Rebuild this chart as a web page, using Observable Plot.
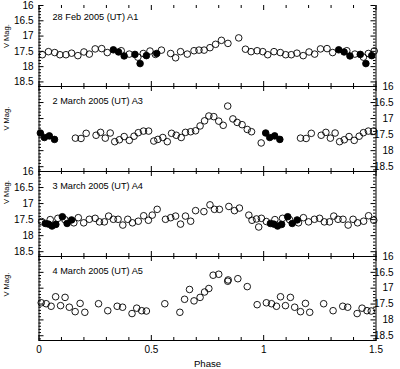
<!DOCTYPE html>
<html><head><meta charset="utf-8">
<script src="https://cdn.jsdelivr.net/npm/d3@7"></script>
<script src="https://cdn.jsdelivr.net/npm/@observablehq/plot@0.6"></script>
<style>
html,body{margin:0;padding:0;background:#fff;}
#chart{position:relative;width:400px;height:369px;overflow:hidden;background:#fff;}
#chart svg{position:absolute;left:0;}
</style></head><body><div id="chart"></div>
<script>
// ---- data (phase, V magnitude) ----
const panelTitles = ["28 Feb 2005 (UT) A1", "2 March 2005 (UT) A3", "3 March 2005 (UT) A4", "4 March 2005 (UT) A5"];
const yLabel = "V Mag.";
const xLabel = "Phase";
const phaseDomain = [0, 1.5];
const magDomain = [16, 18.65];
const phaseMajor = [0, 0.5, 1, 1.5];
const phaseTickLabels = ["0", "0.5", "1", "1.5"];
const phaseMinor = [0.1, 0.2, 0.3, 0.4, 0.6, 0.7, 0.8, 0.9, 1.1, 1.2, 1.3, 1.4];
const magMajor = [16, 16.5, 17, 17.5, 18, 18.5];
const magTickLabels = ["16", "16.5", "17", "17.5", "18", "18.5"];
const magMinor = [16.1, 16.2, 16.3, 16.4, 16.6, 16.7, 16.8, 16.9, 17.1, 17.2, 17.3, 17.4, 17.6, 17.7, 17.8, 17.9, 18.1, 18.2, 18.3, 18.4, 18.6];

const a1Open = [[0.015,17.61],[0.042,17.51],[0.07,17.54],[0.093,17.61],[0.12,17.61],[0.145,17.56],[0.173,17.64],[0.2,17.52],[0.224,17.59],[0.25,17.42],[0.279,17.41],[0.304,17.54],[0.366,17.48],[0.402,17.59],[0.44,17.69],[0.464,17.57],[0.494,17.49],[0.518,17.6],[0.545,17.46],[0.586,17.57],[0.608,17.71],[0.63,17.51],[0.66,17.59],[0.69,17.48],[0.712,17.46],[0.735,17.46],[0.761,17.38],[0.786,17.27],[0.812,17.14],[0.841,17.24],[0.889,17.06],[0.919,17.43],[0.944,17.51],[0.971,17.48],[0.996,17.51],
  [1.018,17.61],[1.046,17.51],[1.074,17.54],[1.098,17.61],[1.123,17.61],[1.148,17.56],[1.176,17.64],[1.202,17.52],[1.227,17.59],[1.253,17.42],[1.282,17.41],[1.307,17.54],[1.37,17.48],[1.406,17.59],[1.444,17.69],[1.466,17.57],[1.492,17.49]];
const a1Filled = [[0.331,17.45],[0.354,17.52],[0.379,17.65],[0.427,17.6],[0.45,17.9],[0.478,17.64],[0.524,17.57],
  [1.334,17.45],[1.358,17.52],[1.384,17.65],[1.43,17.6],[1.455,17.9],[1.481,17.64]];

const a3Open = [[0.162,17.61],[0.187,17.62],[0.21,17.46],[0.254,17.52],[0.274,17.43],[0.295,17.61],[0.317,17.45],[0.337,17.72],[0.358,17.66],[0.379,17.56],[0.402,17.68],[0.423,17.55],[0.442,17.44],[0.465,17.39],[0.488,17.39],[0.511,17.7],[0.529,17.65],[0.551,17.59],[0.571,17.72],[0.59,17.46],[0.611,17.52],[0.633,17.59],[0.652,17.43],[0.675,17.41],[0.697,17.38],[0.717,17.23],[0.737,17.07],[0.756,16.92],[0.778,16.94],[0.8,17.08],[0.82,17.21],[0.84,16.61],[0.863,17.01],[0.882,17.12],[0.904,17.19],[0.927,17.34],[0.946,17.41],[0.989,17.76],
  [1.164,17.61],[1.189,17.62],[1.212,17.46],[1.256,17.52],[1.277,17.43],[1.297,17.61],[1.318,17.45],[1.338,17.72],[1.359,17.66],[1.38,17.56],[1.403,17.68],[1.425,17.55],[1.444,17.44],[1.466,17.39],[1.489,17.39]];
const a3Filled = [[0.006,17.45],[0.024,17.59],[0.046,17.54],[0.069,17.65],
  [1.009,17.45],[1.027,17.59],[1.049,17.54],[1.072,17.65]];

const a4Open = [[0.012,17.56],[0.05,17.5],[0.084,17.46],[0.115,17.5],[0.155,17.6],[0.175,17.44],[0.199,17.6],[0.224,17.49],[0.25,17.46],[0.269,17.57],[0.291,17.57],[0.31,17.39],[0.331,17.49],[0.352,17.49],[0.373,17.67],[0.395,17.49],[0.416,17.6],[0.442,17.55],[0.466,17.38],[0.487,17.52],[0.504,17.36],[0.526,17.18],[0.563,17.49],[0.586,17.44],[0.608,17.39],[0.63,17.64],[0.652,17.39],[0.675,17.55],[0.697,17.22],[0.734,17.25],[0.761,17.04],[0.781,17.18],[0.803,17.18],[0.845,17.09],[0.87,17.22],[0.892,17.14],[0.934,17.36],[0.948,17.52],[0.968,17.48],[0.978,17.73],[0.99,17.46],
  [1.012,17.56],[1.05,17.5],[1.084,17.46],[1.115,17.5],[1.155,17.6],[1.177,17.44],[1.2,17.57],[1.226,17.49],[1.249,17.46],[1.27,17.57],[1.293,17.57],[1.312,17.39],[1.331,17.49],[1.353,17.49],[1.376,17.67],[1.398,17.49],[1.418,17.6],[1.445,17.55],[1.467,17.38],[1.49,17.52]];
const a4Filled = [[0.028,17.62],[0.042,17.64],[0.058,17.7],[0.075,17.65],[0.104,17.41],[0.125,17.62],[0.145,17.51],
  [1.03,17.62],[1.045,17.64],[1.062,17.7],[1.08,17.65],[1.107,17.41],[1.127,17.62],[1.149,17.51]];

const a5Open = [[0.01,17.46],[0.032,17.49],[0.054,17.57],[0.074,17.27],[0.096,17.55],[0.116,17.29],[0.135,17.6],[0.161,17.74],[0.183,17.48],[0.204,17.76],[0.265,17.49],[0.306,17.71],[0.348,17.57],[0.372,17.6],[0.414,17.8],[0.435,17.63],[0.457,17.71],[0.478,17.72],[0.56,17.49],[0.627,17.76],[0.648,17.35],[0.67,17.04],[0.69,17.4],[0.717,17.29],[0.737,17.12],[0.756,17.01],[0.775,16.59],[0.8,16.56],[0.84,16.78],[0.842,16.74],[0.885,16.7],[0.927,16.95],[0.971,17.52],
  [1.012,17.46],[1.035,17.49],[1.057,17.57],[1.075,17.27],[1.097,17.55],[1.119,17.29],[1.138,17.6],[1.164,17.74],[1.186,17.48],[1.205,17.76],[1.267,17.49],[1.309,17.71],[1.352,17.57],[1.374,17.6],[1.416,17.8],[1.438,17.63],[1.46,17.71],[1.479,17.72]];
const a5Filled = [];

// ---- layout ----
const W = 400, ML = 38.5, MR = 24.5, frameW = W - ML - MR;
const FONT = "'Liberation Sans', Arial, Helvetica, sans-serif";
const panels = [
  {title: panelTitles[0], open: a1Open, filled: a1Filled, side: "left",  top: 5,   bottom: 86,  labelDy: 2},
  {title: panelTitles[1], open: a3Open, filled: a3Filled, side: "right", top: 86,  bottom: 171, labelDy: 1.5},
  {title: panelTitles[2], open: a4Open, filled: a4Filled, side: "left",  top: 171, bottom: 256, labelDy: -10},
  {title: panelTitles[3], open: a5Open, filled: a5Filled, side: "right", top: 256, bottom: 340, labelDy: -2}
];

const chart = document.getElementById("chart");
panels.forEach((p, i) => {
  const last = i === panels.length - 1;
  const mt = 14, mb = last ? 32 : 14;
  const h = p.bottom - p.top;
  const marks = [
    Plot.frame({anchor: "left", stroke: "#000"}),
    Plot.frame({anchor: "right", stroke: "#000"}),
    Plot.frame({anchor: "bottom", stroke: "#000"}),
    Plot.tickX(phaseMajor, {x: d => d, insetTop: h - 5, stroke: "#000"}),
    Plot.tickX(phaseMinor, {x: d => d, insetTop: h - 3, stroke: "#000"}),
    Plot.tickX(phaseMajor, {x: d => d, insetBottom: h - 5, stroke: "#000"}),
    Plot.tickX(phaseMinor, {x: d => d, insetBottom: h - 3, stroke: "#000"}),
    Plot.tickY(magMajor, {y: d => d, insetRight: frameW - 5, stroke: "#000"}),
    Plot.tickY(magMinor, {y: d => d, insetRight: frameW - 2.5, stroke: "#000"}),
    Plot.tickY(magMajor, {y: d => d, insetLeft: frameW - 5, stroke: "#000"}),
    Plot.tickY(magMinor, {y: d => d, insetLeft: frameW - 2.5, stroke: "#000"}),
    p.side === "left"
      ? Plot.text(magMajor, {y: d => d, text: (d, j) => magTickLabels[j], frameAnchor: "left", textAnchor: "end", dx: -5.5, fontSize: 10, fill: "#000"})
      : Plot.text(magMajor, {y: d => d, text: (d, j) => magTickLabels[j], frameAnchor: "right", textAnchor: "end", dx: 17.5, fontSize: 10, fill: "#000"}),
    Plot.text([p.title], {text: d => d, frameAnchor: "top-left", textAnchor: "start", dx: 13.5, dy: i === 0 ? 8 : 11, fontSize: 9.2, fill: "#000"}),
    Plot.text([yLabel], {text: d => d, frameAnchor: "left", rotate: -90, dx: -32, dy: p.labelDy, fontSize: 7.5, fill: "#000"}),
    Plot.dot(p.open, {x: d => d[0], y: d => d[1], r: 3.3, stroke: "#000", fill: "none", strokeWidth: 0.9}),
    Plot.dot(p.filled, {x: d => d[0], y: d => d[1], r: 3.3, stroke: "#000", fill: "#000", strokeWidth: 0.9})
  ];
  if (last) {
    marks.push(Plot.text(phaseMajor, {x: d => d, text: (d, j) => phaseTickLabels[j], frameAnchor: "bottom", dy: 12.5, fontSize: 10, fill: "#000"}));
    marks.push(Plot.text([xLabel], {text: d => d, frameAnchor: "bottom", dy: 26.5, fontSize: 9.6, fill: "#000"}));
  }
  const svg = Plot.plot({
    width: W,
    height: h + mt + mb,
    marginLeft: ML, marginRight: MR, marginTop: mt, marginBottom: mb,
    x: {domain: phaseDomain, axis: null},
    y: {domain: magDomain, reverse: true, axis: null},
    style: {fontFamily: FONT, background: "transparent", overflow: "visible", color: "#000"},
    marks
  });
  svg.style.top = (p.top - mt) + "px";
  chart.appendChild(svg);
});
</script>
</body></html>
